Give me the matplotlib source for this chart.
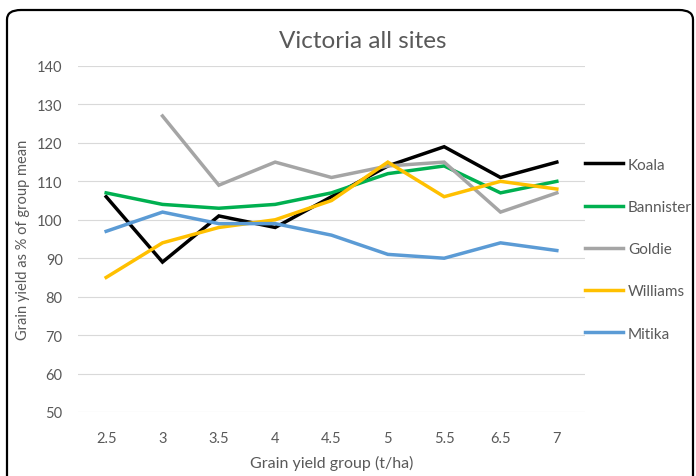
import matplotlib
matplotlib.use("Agg")
import matplotlib.pyplot as plt
from matplotlib.patches import FancyBboxPatch
import numpy as np

groups = ["2.5", "3", "3.5", "4", "4.5", "5", "5.5", "6.5", "7"]
koala = [106, 89, 101, 98, 106, 114, 119, 111, 115]
bannister = [107, 104, 103, 104, 107, 112, 114, 107, 110]
goldie = [np.nan, 127, 109, 115, 111, 114, 115, 102, 107]
williams = [85, 94, 98, 100, 105, 115, 106, 110, 108]
mitika = [97, 102, 99, 99, 96, 91, 90, 94, 92]

series = [
    ("Koala", koala, "#000000"),
    ("Bannister", bannister, "#00B050"),
    ("Goldie", goldie, "#A5A5A5"),
    ("Williams", williams, "#FFC000"),
    ("Mitika", mitika, "#5B9BD5"),
]

plt.rcParams["font.family"] = ["Lato", "DejaVu Sans"]
txt = "#595959"

fig = plt.figure(figsize=(6.96, 4.77), dpi=100)
ax = fig.add_axes([78 / 696, 1 - 413 / 477, (585 - 78) / 696, (413 - 67) / 477])

x = np.arange(len(groups))
for label, vals, color in series:
    ax.plot(x, vals, color=color, linewidth=2.5, label=label,
            solid_joinstyle="miter")

ax.set_xlim(-0.5, len(groups) - 0.5)
ax.set_ylim(50, 140)
ax.set_yticks(range(50, 141, 10))
ax.set_xticks(x)
ax.set_xticklabels(groups)
ax.grid(axis="y", color="#D9D9D9", linewidth=0.8)
ax.set_axisbelow(True)
for spine in ax.spines.values():
    spine.set_visible(False)
ax.tick_params(length=0, colors=txt, labelsize=10.5)
ax.tick_params(axis="x", pad=14)
ax.tick_params(axis="y", pad=11)

# title sits over the whole chart area, not just the axes
fig.text(363 / 696, 1 - 42 / 477, "Victoria all sites", color=txt,
         fontsize=17.5, ha="center", va="center")
ax.set_xlabel("Grain yield group (t/ha)", color=txt, fontsize=11.5, labelpad=7)
ax.set_ylabel("Grain yield as % of group mean", color=txt, fontsize=10.5, labelpad=5)

ax.legend(loc="upper left", bbox_to_anchor=(1.0, 0.735), frameon=False,
          handlelength=2.5, handletextpad=0.3, labelspacing=1.85,
          fontsize=11, labelcolor=txt, borderaxespad=0, borderpad=0)

border = FancyBboxPatch((7 / 696, -0.1), 686 / 696, 1 - 11 / 477 + 0.1,
                        boxstyle="round,pad=0,rounding_size=0.02",
                        transform=fig.transFigure, fill=False,
                        edgecolor="black", linewidth=1.6, clip_on=False)
fig.patches.append(border)

fig.savefig("out.png", dpi=100)
